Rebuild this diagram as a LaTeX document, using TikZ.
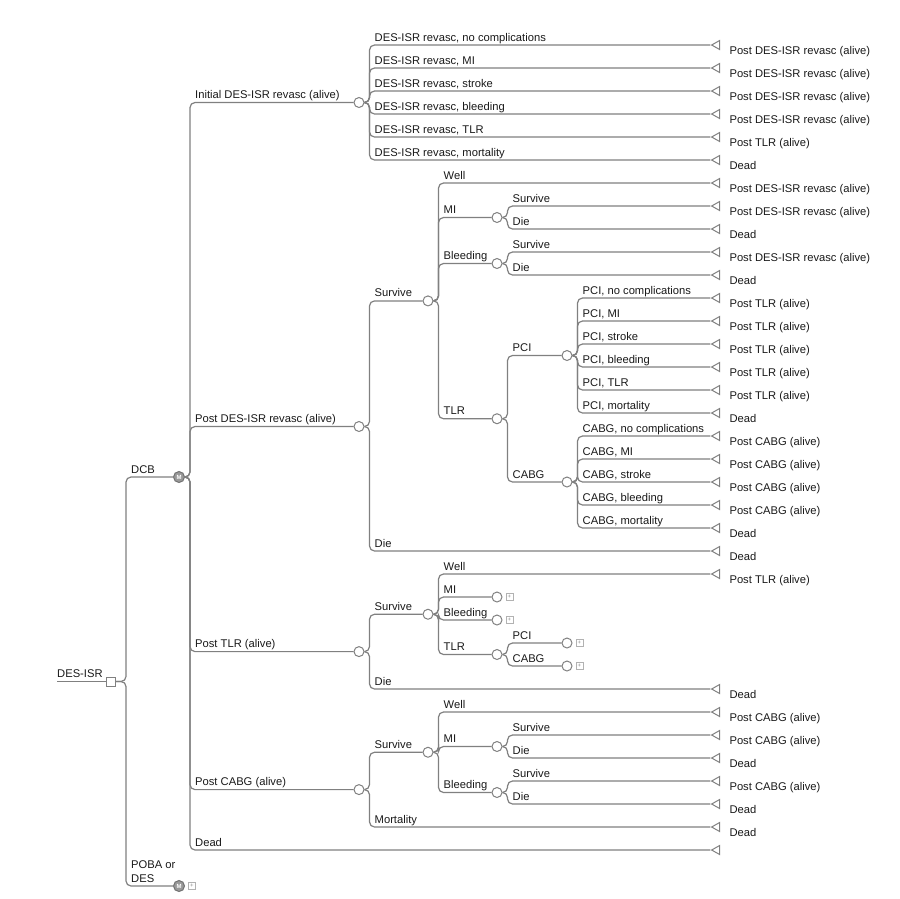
\documentclass[tikz,border=0pt]{standalone}
\usepackage{fontspec}
\setmainfont{Liberation Sans}
\usepackage{tikz}
\usetikzlibrary{shapes.geometric,positioning}

\newcommand{\lblfont}{\fontsize{11.2}{13.5}\selectfont}
\tikzset{
  br/.style={draw=black!50, line width=1.2pt, rounded corners=5pt},
  chance/.style={circle, draw=black!50, fill=white, line width=1pt, minimum size=10pt, inner sep=0pt},
  markov/.style={circle, draw=black!55, fill=black!40, line width=1pt, minimum size=11pt, inner sep=0pt, text=white, font=\fontsize{6}{6}\selectfont\bfseries},
  choice/.style={rectangle, draw=black!50, fill=white, line width=1pt, minimum size=9pt, inner sep=0pt},
  term/.style={isosceles triangle, isosceles triangle stretches, shape border rotate=180, draw=black!50, fill=white, line width=1pt, minimum height=8pt, minimum width=9pt, inner sep=0pt},
  plus/.style={rectangle, draw=black!30, line width=0.6pt, minimum size=7pt, inner sep=0pt, text=black!45, font=\fontsize{6}{6}\selectfont},
  lbl/.style={anchor=base west, inner sep=0pt, text=black!90, font=\lblfont},
  outlbl/.style={anchor=base west, inner sep=0pt, text=black!90, font=\lblfont},
}

% branch: [offset]{parent}{child}{label}
\newcommand{\branch}[4][5]{%
  \draw[br] (#2.east) -- ++(#1,0) coordinate (#3-v) |- (#3);
  \node[lbl] (#3-l) at (#3-v |- #3) [xshift=5pt,yshift=4pt] {#4};
}

\begin{document}
\begin{tikzpicture}[x=1pt,y=-1pt]
\useasboundingbox (0,0) rectangle (900,898);

% terminals, one per row
\foreach \r/\txt in {1/Post DES-ISR revasc (alive), 2/Post DES-ISR revasc (alive),
  3/Post DES-ISR revasc (alive), 4/Post DES-ISR revasc (alive), 5/Post TLR (alive), 6/Dead,
  7/Post DES-ISR revasc (alive), 8/Post DES-ISR revasc (alive), 9/Dead,
  10/Post DES-ISR revasc (alive), 11/Dead,
  12/Post TLR (alive), 13/Post TLR (alive), 14/Post TLR (alive), 15/Post TLR (alive),
  16/Post TLR (alive), 17/Dead,
  18/Post CABG (alive), 19/Post CABG (alive), 20/Post CABG (alive), 21/Post CABG (alive),
  22/Dead, 23/Dead, 24/Post TLR (alive), 29/Dead,
  30/Post CABG (alive), 31/Post CABG (alive), 32/Dead, 33/Post CABG (alive), 34/Dead,
  35/Dead, 36/{}}{
  \node[term] (t\r) at (717,{22+23*\r}) {};
  \node[outlbl] (t\r-o) at (t\r.apex) [xshift=19pt,yshift=-9pt] {\txt};
}

% decision and markov nodes
\coordinate (in) at (57,681.5);
\node[choice] (root) at (111,681.5) {};
\node[markov] (dcb) at (179,477) {M};
\node[markov] (poba) at (179,886) {M};
\node[plus, right=3pt of poba] (poba-p) {+};
\draw[br] (in) -- (root);
\node[lbl] (in-l) at (in) [yshift=4pt] {DES-ISR};

% chance nodes
\node[chance] (init) at (359,102.5) {};
\node[chance] (pdes) at (359,426.5) {};
\node[chance] (ptlr) at (359,651.6) {};
\node[chance] (pcabg) at (359,789.6) {};
\node[chance] (sv1) at (428,300.9) {};
\node[chance] (sv2) at (428,614.25) {};
\node[chance] (sv3) at (428,752.25) {};
\node[chance] (mi1) at (497,217.5) {};
\node[chance] (bl1) at (497,263.5) {};
\node[chance] (tlr1) at (497,418.75) {};
\node[chance] (mi2) at (497,597) {};
\node[chance] (bl2) at (497,620) {};
\node[chance] (tlr2) at (497,654.5) {};
\node[chance] (mi3) at (497,746.5) {};
\node[chance] (bl3) at (497,792.5) {};
\node[chance] (pci1) at (567,355.5) {};
\node[chance] (cabg1) at (567,482) {};
\node[chance] (pci2) at (567,643) {};
\node[chance] (cabg2) at (567,666) {};
\foreach \n in {mi2,bl2,pci2,cabg2}
  \node[plus, right=3pt of \n] (\n-p) {+};

% branches
\branch[10]{root}{dcb}{DCB}
\branch[10]{root}{poba}{\begin{tabular}[b]{@{}l@{}}POBA or\\DES\end{tabular}}
\branch{dcb}{init}{Initial DES-ISR revasc (alive)}
\branch{dcb}{pdes}{Post DES-ISR revasc (alive)}
\branch{dcb}{ptlr}{Post TLR (alive)}
\branch{dcb}{pcabg}{Post CABG (alive)}
\branch{dcb}{t36}{Dead}

\foreach \r/\txt in {1/no complications, 2/MI, 3/stroke, 4/bleeding, 5/TLR, 6/mortality}
  \branch{init}{t\r}{DES-ISR revasc, \txt};

\branch{pdes}{sv1}{Survive}
\branch{pdes}{t23}{Die}
\branch{sv1}{t7}{Well}
\branch{sv1}{mi1}{MI}
\branch{sv1}{bl1}{Bleeding}
\branch{sv1}{tlr1}{TLR}
\branch{mi1}{t8}{Survive}
\branch{mi1}{t9}{Die}
\branch{bl1}{t10}{Survive}
\branch{bl1}{t11}{Die}
\branch{tlr1}{pci1}{PCI}
\branch{tlr1}{cabg1}{CABG}
\foreach \r/\txt in {12/no complications, 13/MI, 14/stroke, 15/bleeding, 16/TLR, 17/mortality}
  \branch{pci1}{t\r}{PCI, \txt};
\foreach \r/\txt in {18/no complications, 19/MI, 20/stroke, 21/bleeding, 22/mortality}
  \branch{cabg1}{t\r}{CABG, \txt};

\branch{ptlr}{sv2}{Survive}
\branch{ptlr}{t29}{Die}
\branch{sv2}{t24}{Well}
\branch{sv2}{mi2}{MI}
\branch{sv2}{bl2}{Bleeding}
\branch{sv2}{tlr2}{TLR}
\branch{tlr2}{pci2}{PCI}
\branch{tlr2}{cabg2}{CABG}

\branch{pcabg}{sv3}{Survive}
\branch{pcabg}{t35}{Mortality}
\branch{sv3}{t30}{Well}
\branch{sv3}{mi3}{MI}
\branch{sv3}{bl3}{Bleeding}
\branch{mi3}{t31}{Survive}
\branch{mi3}{t32}{Die}
\branch{bl3}{t33}{Survive}
\branch{bl3}{t34}{Die}
\end{tikzpicture}
\end{document}
